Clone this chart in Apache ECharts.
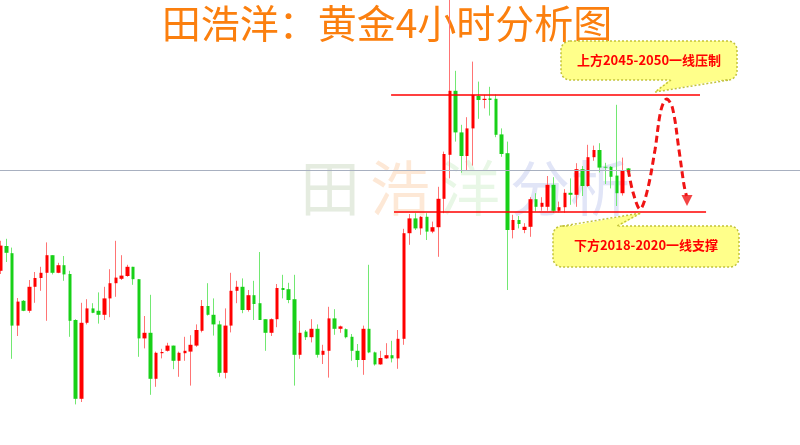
<!DOCTYPE html>
<html><head><meta charset="utf-8">
<script src="https://cdn.jsdelivr.net/npm/echarts@6/dist/echarts.min.js"></script>
<style>html,body{margin:0;padding:0;background:#fff}#c{width:800px;height:445px}</style>
</head><body><div id="c"></div>
<script>
// 4-hour gold candles (price units)
const opens  = [2006.3,2012.5,2010.7,1992.6,1998.8,1996.3,2002.3,2004.5,2005.8,2010.2,
  2005.8,2007.7,2005.5,1994,1974.3,1993.3,1996.9,1996.3,1995.3,1999.4,
  2003.2,2004.3,2005,2007.3,2004.2,1989.4,1990.8,1979.3,1985.7,1986.3,
  1987.6,1983.8,1985.7,1986.1,1987.6,1991.3,1997.5,1995.3,1992.9,1980.8,
  1992.6,2001.3,2002.3,1996.5,2000.2,1998.2,1994.2,1990.8,1994.2,2002,
  2001.7,1999.2,1985.3,1991.1,1989.7,1991.8,1985.3,1986.3,1994.4,1991.8,
  1991.7,1989.8,1986.3,1984,1991.8,1985.9,1982.9,1984.4,1985.2,1984.4,
  1989.3,2015.7,2019.4,2016.9,2019.8,2016.1,2017.2,2024.3,2035.3,2051.3,
  2040.9,2035,2041.9,2050,2049,2049.4,2049.3,2040.4,2035.7,2016.5,
  2019,2016.5,2017.3,2024.2,2022.3,2022.3,2027.8,2021.3,2022.2,2025.8,
  2025.3,2031.7,2027.5,2034.7,2036.5,2032.3,2032.3,2030.1,2025.7,2031.9];
const closes = [2012.6,2010.8,1992.6,1998.6,1996.3,2002.3,2004.5,2005.8,2010.2,2005.8,
  2007.7,2005.4,1993.8,1974.3,1993.3,1996.9,1995.8,1995.3,1999.4,2003.2,
  2004.6,2005.1,2007.3,2004.2,1989.4,1990.8,1979.3,1985.8,1986,1987.6,
  1983.8,1985.8,1986.3,1987.8,1991.5,1997.5,1995.3,1992.9,1980.8,1992.6,
  2001.3,2002.3,1996.5,2000.2,1998,1994,1990.8,1994.2,2002,2001.5,
  1999,1985.3,1990.8,1989.7,1991.8,1985.3,1986.3,1994.4,1991.8,1992.4,
  1989.7,1986.3,1984,1991.8,1985.9,1982.9,1984.5,1985.2,1984.4,1989.3,
  2015.7,2019.4,2016.9,2019.8,2016.1,2017.2,2024.3,2035.5,2051.3,2040.9,
  2035,2041.9,2050.3,2049,2049.3,2049,2040.3,2035.5,2016.5,2019,
  2018,2017.3,2024.2,2022.3,2023.3,2027.8,2021.3,2022.2,2025.8,2025.3,
  2031.7,2027.5,2034.7,2036.5,2032.1,2032.1,2029.8,2025.7,2031.5,2031.1];
const lows   = [2005.5,2008.5,1984.3,1990,1996.2,1995.8,1998.3,2001.3,1993.8,2005.4,
  2005.7,2003.8,1989.8,1972.9,1973.5,1992.9,1995.7,1993.1,1994,1994.7,
  1999.8,2004,2004.8,2002.8,1984.8,1986.9,1975.3,1977.3,1984.4,1986.1,
  1981.7,1979.8,1983.8,1977.6,1987.3,1990.9,1995.1,1990.1,1979.8,1979.4,
  1990.9,1998.2,1995.7,1996.1,1994,1994,1986.3,1990,1992.2,1999.4,
  1998.2,1977.6,1984.3,1989,1988.4,1984.6,1983,1979.6,1990.3,1990.8,
  1989.4,1983.8,1982.2,1980.3,1985.7,1982.6,1982.8,1984.3,1983.4,1981.8,
  1987.8,2012.8,2016.5,2015.3,2014,2015.7,2009.8,2020.7,2029.4,2038.6,
  2030.8,2031.5,2032.6,2044.3,2046.9,2045.1,2039.7,2034.8,2001.5,2014.4,
  2016.9,2015.7,2014.8,2021.1,2021.3,2021.3,2020.8,2020.9,2020.8,2022.8,
  2022.3,2025,2027.3,2033.8,2030.9,2028,2026.9,2022.5,2025.1,2031];
const highs  = [2013.8,2014.3,2012.1,1999.5,1999,2004,2006,2007.3,2013.4,2010.2,
  2008.3,2010,2006.3,1994.2,1998.3,1999.2,1998.2,2000.9,2002.3,2006.7,
  2013.8,2010.2,2007.8,2007.3,2004.2,1995,2000.3,1986.1,1986.8,1988.3,
  1987.6,1986.1,1989.8,1990.2,1992.9,1999,2003.2,1999.4,1993.8,1996.9,
  2005.8,2003.8,2004.4,2001.5,2003.8,2011,1994.2,1994.4,2003,2005.3,
  2003.3,2005.3,1993.8,1991.5,1994.2,1992.9,1987.8,1997.3,1996.7,1992.6,
  1991.9,1990.5,1988,1992.6,2007.8,1986.1,1986.3,1988.2,1988.8,1991.5,
  2016.8,2020.5,2020.7,2020,2020.7,2018.6,2027.3,2036.1,2076.5,2056.3,
  2042.8,2044.7,2058.6,2053.6,2050.3,2052.3,2050.4,2041.9,2038.6,2020.3,
  2020,2018.2,2024.7,2025.7,2024.7,2030,2029.7,2023.6,2026.7,2029.4,
  2033.2,2032.5,2037.8,2037.6,2038.2,2033.3,2032.5,2047.8,2034.6,2032];

// annotation levels
const resistance = 2050.25, resistanceSpan = [67.8, 121.45];
const support = 2021, supportSpan = [68.3, 122.5];
const pivot = 2031.5;
// projected path (bar index, price)
const pathX = [109, 109.8, 111.03, 112.24, 113.63, 114.67, 115.66, 116.67, 117.8, 118.67, 119.1];
const pathY = [2031.5, 2026, 2021.75, 2026, 2036.5, 2046.5, 2049.25, 2047, 2036.5, 2027.75, 2025];
const arrowTip = [119.19, 2023.9];

const titleText = '田浩洋：黄金4小时分析图';
const noteUp = '上方2045-2050一线压制';
const noteDown = '下方2018-2020一线支撑';

const UP = '#ff0000', DOWN = '#18d018';
const full = opens.map((o, i) => [i, o, closes[i], lows[i], highs[i]]);
const bodies = opens.map((o, i) => [i, o, closes[i], Math.min(o, closes[i]), Math.max(o, closes[i])]);

const chart = echarts.init(document.getElementById('c'), null, {renderer: 'canvas'});
const font = '"Noto Sans CJK SC", sans-serif';
const boxFill = '#ffff8a', boxStroke = '#c2c23a';

chart.setOption({
  animation: false,
  backgroundColor: '#ffffff',
  grid: {left: 0, right: 0, top: 0, bottom: 0},
  xAxis: {type: 'value', min: -0.1216, max: 138.815, show: false},
  yAxis: {type: 'value', min: 1962.75, max: 2074, show: false},
  graphic: [
    {type: 'text', z: 1, x: 295, y: 188, silent: true, style: {
      text: '{a|田}{b|浩}{c|洋}{d|分}{e|析}', verticalAlign: 'middle', font: '60px ' + font,
      rich: {
        a: {fill: '#e5ece0', fontSize: 60, fontFamily: font, padding: [0, 5, 0, 5]},
        b: {fill: '#fde8d6', fontSize: 60, fontFamily: font, padding: [0, 5, 0, 5]},
        c: {fill: '#e8f7e6', fontSize: 60, fontFamily: font, padding: [0, 5, 0, 5]},
        d: {fill: '#e1e5f7', fontSize: 60, fontFamily: font, padding: [0, 0, 0, 5]},
        e: {fill: '#e1e5f7', fontSize: 60, fontFamily: font}
      }}},
    {type: 'text', z: 1, x: 387, y: 23, silent: true, style: {
      text: titleText, align: 'center', verticalAlign: 'middle',
      fill: '#fb7f0e', font: '39px ' + font}},
    // upper callout
    {type: 'rect', z: 10, shape: {x: 561, y: 41, width: 176, height: 39, r: 9},
      style: {fill: boxFill, stroke: boxStroke, lineWidth: 1.5, lineDash: [2, 2]}},
    {type: 'polygon', z: 11, shape: {points: [[655, 92], [671, 78.5], [729, 78.5]]}, style: {fill: boxFill}},
    {type: 'polyline', z: 12, shape: {points: [[671, 80], [655, 92], [729, 80]]},
      style: {fill: null, stroke: boxStroke, lineWidth: 1.5, lineDash: [2, 2]}},
    {type: 'text', z: 13, x: 649, y: 60, style: {text: noteUp, align: 'center', verticalAlign: 'middle',
      fill: '#ff0000', font: 'bold 13px ' + font}},
    // lower callout
    {type: 'rect', z: 10, shape: {x: 553, y: 226, width: 186, height: 41, r: 9},
      style: {fill: boxFill, stroke: boxStroke, lineWidth: 1.5, lineDash: [2, 2]}},
    {type: 'polygon', z: 11, shape: {points: [[641, 213], [563, 227.5], [617, 227.5]]}, style: {fill: boxFill}},
    {type: 'polyline', z: 12, shape: {points: [[563, 226], [641, 213], [617, 226]]},
      style: {fill: null, stroke: boxStroke, lineWidth: 1.5, lineDash: [2, 2]}},
    {type: 'text', z: 13, x: 646, y: 245, style: {text: noteDown, align: 'center', verticalAlign: 'middle',
      fill: '#ff0000', font: 'bold 13px ' + font}}
  ],
  series: [
    {
      name: 'wicks', type: 'candlestick', data: full, barWidth: 1, silent: true, z: 3,
      itemStyle: {color: 'rgba(0,0,0,0)', color0: 'rgba(0,0,0,0)', borderColor: '#ff7474', borderColor0: '#72e872', borderWidth: 1}
    },
    {
      name: 'bodies', type: 'candlestick', data: bodies, barWidth: 4, silent: true, z: 4,
      itemStyle: {color: UP, color0: DOWN, borderColor: UP, borderColor0: DOWN, borderWidth: 0},
      markLine: {
        silent: true, symbol: 'none', label: {show: false},
        data: [
          {yAxis: pivot, lineStyle: {color: '#a8b0c0', width: 1, type: 'solid'}},
          [{coord: [resistanceSpan[0], resistance], lineStyle: {color: '#ff0000', width: 1.6, type: 'solid'}},
           {coord: [resistanceSpan[1], resistance]}],
          [{coord: [supportSpan[0], support], lineStyle: {color: '#ff0000', width: 1.6, type: 'solid'}},
           {coord: [supportSpan[1], support]}]
        ]
      }
    },
    {
      name: 'path', type: 'line', z: 5, silent: true, smooth: 0.35, showSymbol: false, symbol: 'none',
      data: pathX.map((x, i) => [x, pathY[i]]),
      lineStyle: {color: '#f01414', width: 3, type: [7, 4]}
    },
    {
      name: 'arrow', type: 'scatter', z: 5, silent: true, symbol: 'triangle', symbolRotate: 180,
      symbolSize: [11, 11], data: [arrowTip], itemStyle: {color: '#f01414'}
    }
  ]
});
</script>
</body></html>
